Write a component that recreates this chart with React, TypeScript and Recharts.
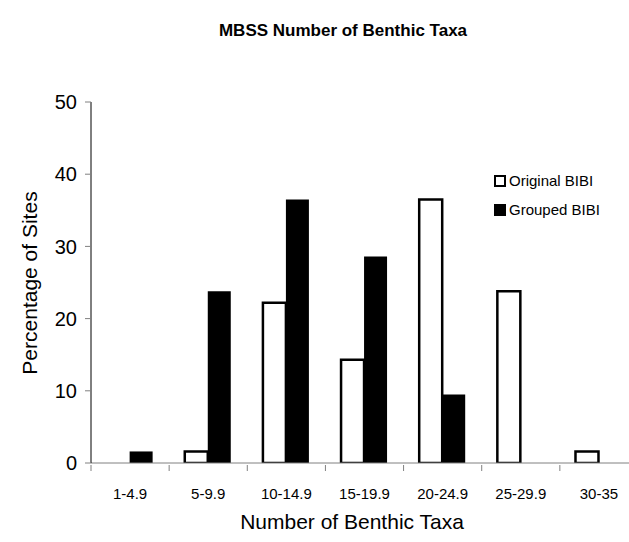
import { BarChart, Bar, XAxis, YAxis } from "recharts"

const categories = ["1-4.9", "5-9.9", "10-14.9", "15-19.9", "20-24.9", "25-29.9", "30-35"]
const originalBibi = [0, 1.6, 22.2, 14.3, 36.5, 23.8, 1.6]
const groupedBibi = [1.6, 23.8, 36.5, 28.6, 9.5, 0, 0]
const yTicks = [0, 10, 20, 30, 40, 50]

const data = categories.map((range, i) => ({
  range,
  original: originalBibi[i],
  grouped: groupedBibi[i],
}))

const font = "'Liberation Sans', Arial, sans-serif"
const CHART_W = 648
const AXIS_W = 91
const RIGHT = 10

// tick label in the middle of the bin, tick mark on its left edge
function BinTick(props: any) {
  const { x, y, payload } = props
  const half = payload?.offset || (CHART_W - AXIS_W - RIGHT) / categories.length / 2
  return (
    <g>
      <line x1={x - half} x2={x - half} y1={y} y2={y + 6} stroke="#808080" />
      <text x={x} y={y + 29} textAnchor="middle" dy="0.35em" fill="#000" fontSize={15} fontFamily={font}>
        {payload.value}
      </text>
    </g>
  )
}

function LegendBox() {
  const row = (label: string, fill: string) => (
    <div style={{ display: "flex", alignItems: "center", height: 29 }}>
      <div
        style={{
          width: 12,
          height: 12,
          boxSizing: "border-box",
          background: fill,
          border: "2px solid #000",
          marginRight: 3,
        }}
      />
      <span style={{ fontSize: 15, color: "#000" }}>{label}</span>
    </div>
  )
  return (
    <div style={{ position: "absolute", left: 494, top: 166 }}>
      {row("Original BIBI", "#fff")}
      {row("Grouped BIBI", "#000")}
    </div>
  )
}

export default function App() {
  return (
    <div
      style={{
        position: "absolute",
        left: 0,
        top: 0,
        width: 629,
        height: 542,
        overflow: "hidden",
        background: "#fff",
        fontFamily: font,
      }}
    >
      <div style={{ position: "absolute", top: 21, left: 0, width: 686, textAlign: "center", fontWeight: "bold", fontSize: 17 }}>
        MBSS Number of Benthic Taxa
      </div>

      <BarChart
        width={CHART_W}
        height={542}
        data={data}
        margin={{ top: 102, right: RIGHT, left: 0, bottom: 0 }}
        barCategoryGap="20%"
        barGap={0}
      >
        <XAxis
          dataKey="range"
          axisLine={{ stroke: "#808080" }}
          tickLine={false}
          tickSize={0}
          height={79}
          interval={0}
          tick={<BinTick />}
        />
        <YAxis
          width={AXIS_W}
          domain={[0, 50]}
          ticks={yTicks}
          allowDataOverflow
          tickSize={6}
          tickMargin={8}
          tick={{ fill: "#000", fontSize: 20, fontFamily: font }}
          axisLine={{ stroke: "#000" }}
          tickLine={{ stroke: "#808080" }}
        />
        <Bar dataKey="original" name="Original BIBI" fill="#fff" stroke="#000" strokeWidth={2.5} isAnimationActive={false} />
        <Bar dataKey="grouped" name="Grouped BIBI" fill="#000" isAnimationActive={false} />
      </BarChart>

      <LegendBox />

      <div style={{ position: "absolute", top: 510, left: 0, width: 704, textAlign: "center", fontSize: 21 }}>
        Number of Benthic Taxa
      </div>
      <div
        style={{
          position: "absolute",
          left: 30,
          top: 283,
          transform: "translate(-50%, -50%) rotate(-90deg)",
          whiteSpace: "nowrap",
          fontSize: 21,
        }}
      >
        Percentage of Sites
      </div>
    </div>
  )
}
